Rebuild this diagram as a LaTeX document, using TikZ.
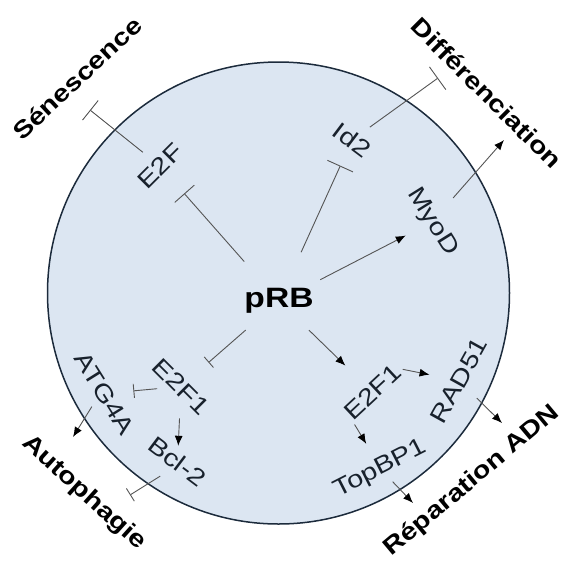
\documentclass[tikz,border=0pt]{standalone}
\usepackage{fontspec}
\setmainfont{Liberation Sans}
\usetikzlibrary{arrows.meta}
\definecolor{cellfill}{HTML}{DCE6F2}
\definecolor{cellline}{HTML}{1C2B3C}
\definecolor{linkgray}{HTML}{555555}
\definecolor{genetxt}{HTML}{18212C}
\begin{document}
\begin{tikzpicture}[x=1pt,y=-1pt,
    gene/.style={font=\fontsize{24}{28}\selectfont, text=genetxt, inner sep=0pt, rotate=#1, xscale=1.2},
    fate/.style={font=\fontsize{24}{28}\selectfont\bfseries, inner sep=0pt, rotate=#1, xscale=1.2},
    act/.style={draw=linkgray, line width=0.9pt, -{Latex[length=10pt,width=8pt,color=black]}},
    inh/.style={draw=linkgray, line width=0.9pt, -{Bar[width=#1,color=linkgray]}},
    inh/.default=26pt]
    \path[use as bounding box] (0,0) rectangle (564,563);
    \draw[cellline, fill=cellfill, line width=1.5pt] (278.5,293) circle[radius=231pt];

    \node[font=\fontsize{28}{32}\selectfont\bfseries, inner sep=0pt, xscale=1.2] (prb) at (279,301) {pRB};

    \node[fate=43] (sen) at (77,78) {Sénescence};
    \node[fate=-45] (dif) at (487,93) {Différenciation};
    \node[fate=-42] (aut) at (84,493) {Autophagie};
    \node[fate=40] (rep) at (472,481) {Réparation ADN};

    \node[gene=45] (e2f) at (160,166) {E2F};
    \node[gene=-37] (id2) at (352,140) {Id2};
    \node[gene=-58] (myod) at (432,222) {MyoD};
    \node[gene=-45] (e2fa) at (181,386.5) {E2F1};
    \node[gene=-58] (atg) at (104.5,393.5) {ATG4A};
    \node[gene=-37] (bcl) at (177.5,461.5) {Bcl-2};
    \node[gene=43] (e2fb) at (372.5,392) {E2F1};
    \node[gene=61] (rad) at (459,380.5) {RAD51};
    \node[gene=27] (top) at (380.5,469) {TopBP1};

    \coordinate (senT) at (90,110);
    \coordinate (difT) at (438,78);
    \coordinate (difA) at (504,140);
    \coordinate (autA) at (73,437);
    \coordinate (autT) at (130,495);
    \coordinate (repA) at (502,423);
    \coordinate (repB) at (413,503);

    \draw[inh, shorten <=52.6pt, shorten >=36.6pt] (prb.center) -- (e2f.center);
    \draw[inh=25pt, shorten <=22pt] (e2f.center) -- (senT);
    \draw[inh=28pt, shorten <=53.5pt, shorten >=28.2pt] (prb.center) -- (id2.center);
    \draw[inh=28pt, shorten <=22pt] (id2.center) -- (difT);
    \draw[act, shorten <=46.5pt, shorten >=29.5pt] (prb.center) -- (myod.center);
    \draw[act, shorten <=32pt] (myod.center) -- (difA);

    \draw[inh=14pt, shorten <=44.2pt, shorten >=36.5pt] (prb.center) -- (e2fa.center);
    \draw[inh=14pt, shorten <=24pt, shorten >=29pt] (e2fa.center) -- (atg.center);
    \draw[act, shorten <=32pt, shorten >=15.7pt] (e2fa.center) -- (bcl.center);
    \draw[act, shorten <=10pt] (atg.south) -- (autA);
    \draw[inh=15pt, shorten <=14pt] (bcl.south) -- (autT);

    \draw[act, shorten <=41.8pt, shorten >=37.8pt] (prb.center) -- (e2fb.center);
    \draw[act, shorten <=5pt, shorten >=30pt] (e2fb.east) -- (rad.center);
    \draw[act, shorten <=3pt, shorten >=18pt] (e2fb.south west) -- (top.north);
    \draw[act, shorten <=25pt] (rad.center) -- (repA);
    \draw[act, shorten <=17.5pt] (top.center) -- (repB);
\end{tikzpicture}
\end{document}
